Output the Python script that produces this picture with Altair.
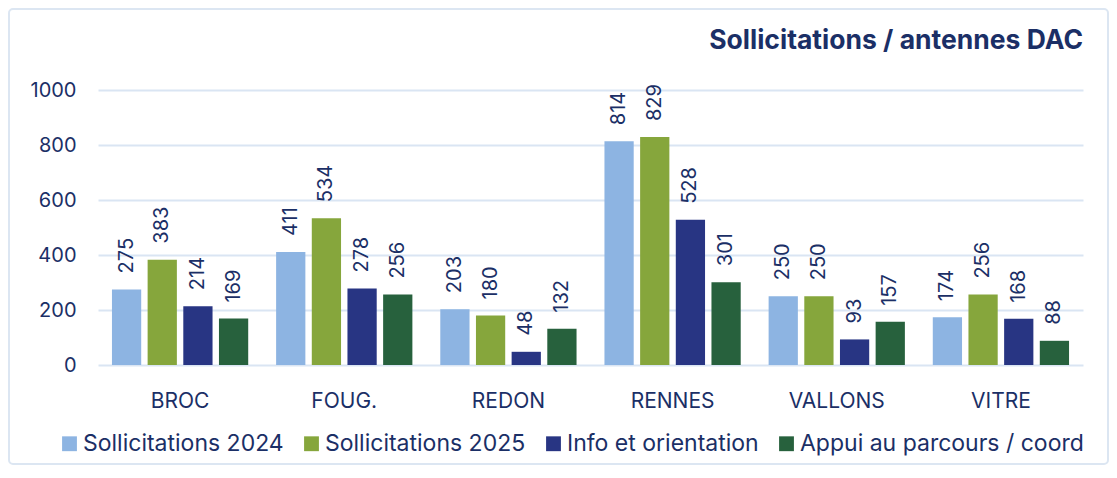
import altair as alt
import pandas as pd

categories = ["BROC", "FOUG.", "REDON", "RENNES", "VALLONS", "VITRE"]
series = ["Sollicitations 2024", "Sollicitations 2025", "Info et orientation", "Appui au parcours / coord"]
s2024 = [275, 411, 203, 814, 250, 174]
s2025 = [383, 534, 180, 829, 250, 256]
info = [214, 278, 48, 528, 93, 168]
appui = [169, 256, 132, 301, 157, 88]
colors = ["#8DB4E2", "#86A63C", "#283583", "#27613D"]
y_ticks = [0, 200, 400, 600, 800, 1000]

rows = []
for vals, s in zip([s2024, s2025, info, appui], series):
    for c, v in zip(categories, vals):
        rows.append({"cat": c, "serie": s, "val": v})
df = pd.DataFrame(rows)

TXT = "#1B2F66"
FONT = "Inter"
GRID = "#DAE5F3"

base = alt.Chart(df).encode(
    x=alt.X("cat:N", sort=categories, title=None,
            scale=alt.Scale(paddingInner=0.17, paddingOuter=0.085),
            axis=alt.Axis(labelAngle=0, labelFontSize=21, labelColor=TXT, labelFont=FONT,
                          labelPadding=25, domain=False, ticks=False, grid=False)),
    xOffset=alt.XOffset("serie:N", sort=series,
                        scale=alt.Scale(paddingInner=0.18, paddingOuter=0)),
)

bars = base.mark_bar().encode(
    y=alt.Y("val:Q", title=None,
            scale=alt.Scale(domain=[0, 1000], nice=False),
            axis=alt.Axis(values=y_ticks, format="d", labelFontSize=20, labelColor=TXT,
                          labelFont=FONT, labelPadding=22, domain=False, ticks=False,
                          gridColor=GRID, gridWidth=2)),
    color=alt.Color("serie:N", sort=series, title=None,
                    scale=alt.Scale(domain=series, range=colors),
                    legend=alt.Legend(orient="none", legendX=-40, legendY=342, padding=0,
                                      direction="horizontal", columns=4,
                                      symbolType="square", symbolSize=220,
                                      symbolStrokeWidth=0, symbolOpacity=1,
                                      labelFontSize=23, labelColor=TXT, labelFont=FONT,
                                      columnPadding=16, labelOffset=2, labelLimit=400)),
)

labels = base.mark_text(angle=270, align="left", baseline="middle", dx=16,
                        fontSize=20, color=TXT, font=FONT).encode(
    y=alt.Y("val:Q"),
    text=alt.Text("val:Q"),
)

frame = alt.Chart(alt.Data(values=[{}])).mark_rect(
    filled=False, stroke="#DCE6F2", strokeWidth=2, cornerRadius=4
).encode(
    x=alt.value(-89), x2=alt.value(1010), y=alt.value(-81), y2=alt.value(374)
)

chart = alt.layer(frame, bars, labels).properties(
    width=985, height=275,
    padding={"left": 90, "top": 82, "right": 26, "bottom": 100},
    autosize=alt.AutoSizeParams(type="none"),
    title=alt.TitleParams("Sollicitations / antennes DAC", anchor="end", frame="group",
                          fontSize=26.5, fontWeight="bold", color=TXT, font=FONT, offset=-46),
).configure_view(stroke=None)

chart.save("out.html", embed_options={"renderer": "svg", "actions": False})
